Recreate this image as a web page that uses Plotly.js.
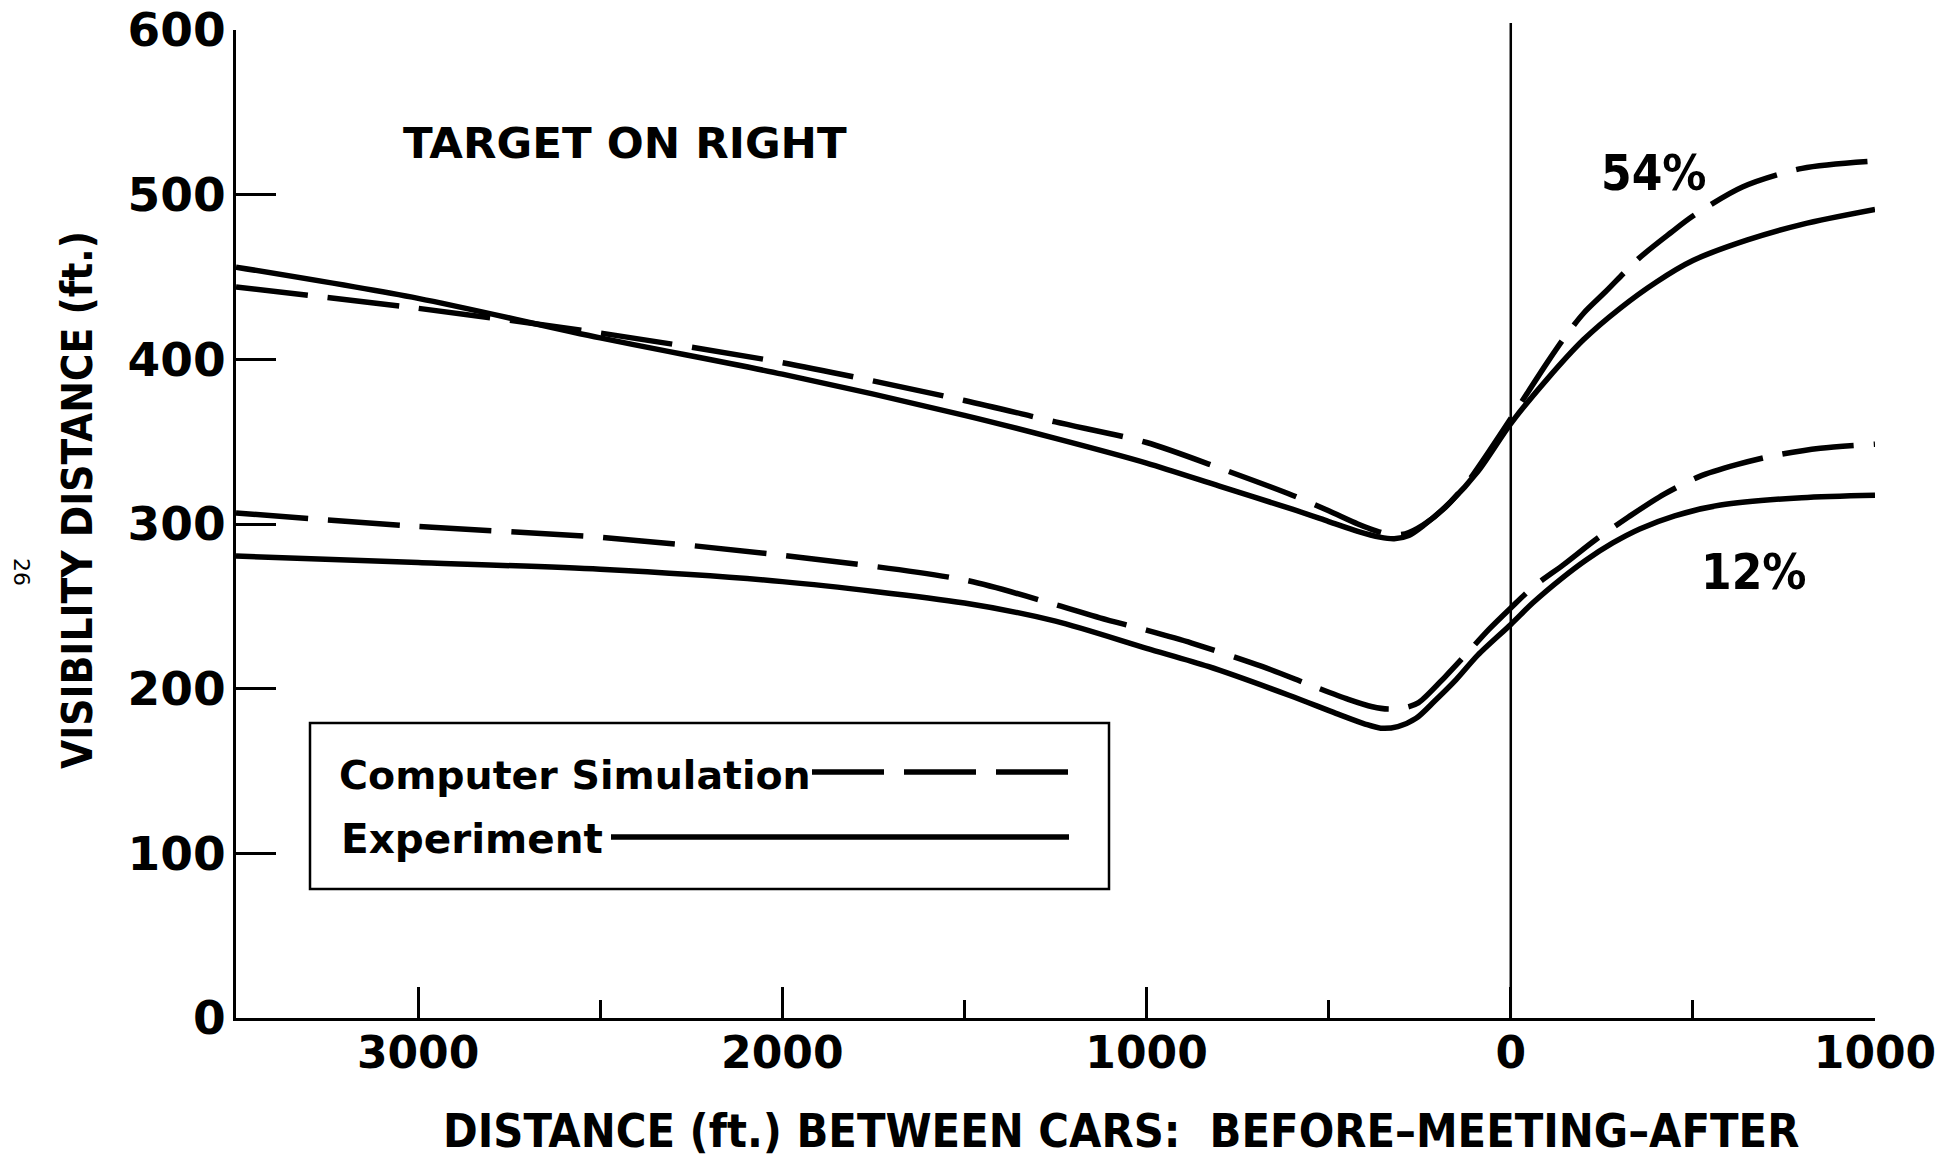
<!DOCTYPE html>
<html>
<head>
<meta charset="utf-8">
<script src="https://cdn.plot.ly/plotly-3.0.1.min.js"></script>
<style>
  html, body { margin: 0; padding: 0; background: #ffffff; }
  #chart { width: 1946px; height: 1158px; }
</style>
</head>
<body>
<div id="chart"></div>
<script>
// ---- Data (distance between cars: negative = before meeting, positive = after) ----
const xExp54 = [-3500, -3000, -2500, -2000, -1500, -1250, -1000, -800, -600, -500, -420, -360, -320, -280, -240, -165, -90, 0, 100, 200, 300, 400, 500, 650, 800, 1000];
const yExp54 = [456, 437, 413, 391, 366, 352, 337, 323, 309, 301.5, 295.5, 292, 291, 293, 299, 313.5, 332, 361, 388, 412, 431, 447, 460, 472.5, 482, 491];

const xSim54 = [-3500, -3000, -2500, -2000, -1500, -1250, -1000, -800, -600, -500, -420, -372, -330, -290, -240, -180, -120, -60, 0, 100, 150, 200, 260, 350, 440, 500, 636, 800, 1000];
const ySim54 = [444, 431, 416, 398, 375, 362, 349.5, 334, 317.5, 308, 300, 296, 293.5, 294, 299.5, 310, 325, 344, 364, 398, 414, 428, 441, 461, 477, 487, 504.7, 516, 520.5];

const xExp12 = [-3500, -3000, -2500, -2000, -1500, -1250, -1000, -831, -609, -480, -400, -357, -310, -260, -209, -150, -90, 0, 60, 140, 206, 280, 354, 450, 576, 799, 1000];
const yExp12 = [280.5, 276.6, 272.5, 265, 252, 241, 224.5, 213.5, 196, 185, 178.5, 176, 177, 182, 192.5, 205.5, 220.5, 239, 252, 267, 278, 288.5, 297, 305, 311.5, 316, 317.5];

const xSim12 = [-3500, -3000, -2500, -2000, -1500, -1250, -1128, -1000, -876, -683, -560, -446, -380, -336, -290, -253, -179, -120, -60, 0, 60, 146, 230, 324, 420, 517, 620, 724, 850, 1000];
const ySim12 = [306.7, 298.5, 292, 281, 266, 251, 243, 235.5, 227.7, 213.5, 203, 193.5, 189, 187.6, 188.5, 191.5, 207.5, 221.5, 236, 249, 261.5, 275.5, 290, 304.4, 318, 328.8, 336, 341.6, 346, 348.5];

const xTickVals = [-3000, -2000, -1000, 0, 1000];
const xTickText = ['3000', '2000', '1000', '0', '1000'];
const xMinorVals = [-2500, -1500, -500, 500];
const yTickVals = [0, 100, 200, 300, 400, 500, 600];

const seriesNames = ['Computer Simulation', 'Experiment'];
const curveLabels = ['54%', '12%'];

// ---- Layout helpers (pixel -> paper) ----
const W = 1946, H = 1158;
const M = { l: 236, r: 71, t: 30, b: 140 };
const PW = W - M.l - M.r, PH = H - M.t - M.b;
const px = v => (v - M.l) / PW;
const py = v => (H - M.b - v) / PH;

const boldFont = 'DejaVu Sans, sans-serif';
const condFont = 'DejaVu Sans Condensed, DejaVu Sans, sans-serif';

const lineW = 5.5;
const dashPat = '72px,20px';

function curve(x, y, dashed) {
  return {
    x: x, y: y, type: 'scatter', mode: 'lines',
    line: { color: '#000', width: lineW, shape: 'spline', smoothing: 0.8, dash: dashed ? dashPat : 'solid' },
    hoverinfo: 'skip', showlegend: false
  };
}

const data = [
  curve(xExp54, yExp54, false),
  curve(xSim54, ySim54, true),
  curve(xExp12, yExp12, false),
  curve(xSim12, ySim12, true)
];

const layout = {
  width: W, height: H,
  margin: M,
  paper_bgcolor: '#fff', plot_bgcolor: '#fff',
  showlegend: false,
  xaxis: {
    range: [-3500, 1000],
    showgrid: false, zeroline: false,
    showline: true, linecolor: '#000', linewidth: 3,
    tickmode: 'array', tickvals: xTickVals, ticktext: xTickText,
    ticks: 'inside', ticklen: 31, tickwidth: 3, tickcolor: '#000',
    ticklabelstandoff: -6,
    tickfont: { family: boldFont, size: 44, color: '#000', weight: 'bold' },
    minor: { tickmode: 'array', tickvals: xMinorVals, ticks: 'inside', ticklen: 18, tickwidth: 3, tickcolor: '#000', showgrid: false },
    fixedrange: true
  },
  yaxis: {
    range: [0, 600],
    showgrid: false, zeroline: false,
    showline: true, linecolor: '#000', linewidth: 3,
    tickmode: 'array', tickvals: yTickVals,
    ticks: 'inside', ticklen: 40, tickwidth: 3, tickcolor: '#000',
    ticklabelstandoff: -2,
    tickfont: { family: boldFont, size: 47, color: '#000', weight: 'bold' },
    fixedrange: true
  },
  shapes: [
    // meeting line at 0
    { type: 'line', xref: 'x', yref: 'paper', x0: 0, x1: 0, y0: 0, y1: py(23), line: { color: '#000', width: 2.5 } },
    // legend box
    { type: 'rect', xref: 'paper', yref: 'paper', x0: px(310), x1: px(1109), y0: py(889), y1: py(723), line: { color: '#000', width: 2.5 }, fillcolor: 'rgba(0,0,0,0)' },
    // legend samples
    { type: 'line', xref: 'paper', yref: 'paper', x0: px(812), x1: px(1071), y0: py(772), y1: py(772), line: { color: '#000', width: lineW, dash: dashPat } },
    { type: 'line', xref: 'paper', yref: 'paper', x0: px(611), x1: px(1069), y0: py(837), y1: py(837), line: { color: '#000', width: lineW } }
  ],
  annotations: [
    { text: seriesNames[0], xref: 'paper', yref: 'paper', x: px(337), y: py(775), xanchor: 'left', yanchor: 'middle', showarrow: false,
      font: { family: boldFont, size: 39.5, color: '#000', weight: 'bold' } },
    { text: seriesNames[1], xref: 'paper', yref: 'paper', x: px(339), y: py(839), xanchor: 'left', yanchor: 'middle', showarrow: false,
      font: { family: boldFont, size: 40.5, color: '#000', weight: 'bold' } },
    { text: 'TARGET ON RIGHT', xref: 'paper', yref: 'paper', x: px(625), y: py(143), xanchor: 'center', yanchor: 'middle', showarrow: false,
      font: { family: boldFont, size: 43.5, color: '#000', weight: 'bold' } },
    { text: curveLabels[0], xref: 'paper', yref: 'paper', x: px(1654), y: py(173), xanchor: 'center', yanchor: 'middle', showarrow: false,
      font: { family: condFont, size: 49, color: '#000', weight: 'bold' } },
    { text: curveLabels[1], xref: 'paper', yref: 'paper', x: px(1754), y: py(572), xanchor: 'center', yanchor: 'middle', showarrow: false,
      font: { family: condFont, size: 49, color: '#000', weight: 'bold' } },
    { text: 'DISTANCE (ft.) BETWEEN CARS:  BEFORE\u2013MEETING\u2013AFTER', xref: 'paper', yref: 'paper', x: px(1121), y: py(1131), xanchor: 'center', yanchor: 'middle', showarrow: false,
      font: { family: condFont, size: 46.5, color: '#000', weight: 'bold' } },
    { text: 'VISIBILITY DISTANCE (ft.)', xref: 'paper', yref: 'paper', x: px(77), y: py(500), xanchor: 'center', yanchor: 'middle', textangle: -90, showarrow: false,
      font: { family: condFont, size: 42, color: '#000', weight: 'bold' } },
    { text: '26', xref: 'paper', yref: 'paper', x: px(22), y: py(572), xanchor: 'center', yanchor: 'middle', textangle: 90, showarrow: false,
      font: { family: 'DejaVu Sans, sans-serif', size: 22, color: '#000' } }
  ]
};

Plotly.newPlot('chart', data, layout, { staticPlot: true, displayModeBar: false });
</script>
</body>
</html>
